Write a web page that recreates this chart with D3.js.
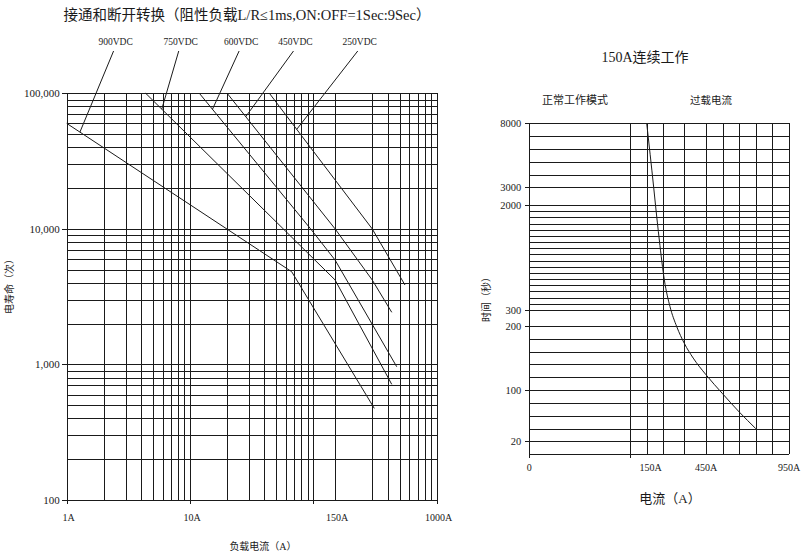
<!DOCTYPE html>
<html>
<head>
<meta charset="utf-8">
<script src="https://cdn.jsdelivr.net/npm/d3@7"></script>
<style>
html,body{margin:0;padding:0;background:#fff;}
svg{display:block;}
</style>
</head>
<body>
<div id="chart"></div>
<script>
// ---------- DATA : left chart (electrical life vs load current, log-log) ----------
const lifeTitle = "接通和断开转换（阻性负载L/R≤1ms,ON:OFF=1Sec:9Sec）";
const lifeXTitle = "负载电流（A）";
const lifeYTitle = "电寿命（次）";
const lifeCurrentGrid = [1,2,3,4,5,6,7,8,9,10,20,30,40,50,60,70,80,90,100,150,300,400,500,600,700,800,900,1000];
const lifeCountGrid = [100,200,300,400,500,600,700,800,900,1000,2000,3000,4000,5000,6000,7000,8000,9000,10000,20000,30000,40000,50000,60000,70000,80000,90000,100000];
const lifeXTickMarks = [1,10,100,1000];
const lifeXTickValues = [1,10,150,1000];
const lifeXTickLabels = ["1A","10A","150A","1000A"];
const lifeYTickValues = [100,1000,10000,100000];
const lifeYTickLabels = ["100","1,000","10,000","100,000"];

const voltageNames = ["900VDC","750VDC","600VDC","450VDC","250VDC"];
const current900 = [1, 66.7, 312];
const life900    = [60000, 4830, 474];
const current750 = [4.37, 57, 150, 432];
const life750    = [100000, 10000, 4200, 713];
const current600 = [11.9, 95, 150, 474];
const life600    = [100000, 10000, 5890, 962];
const current450 = [20, 150, 300, 432];
const life450    = [100000, 10000, 4200, 2424];
const current250 = [44, 300, 553];
const life250    = [100000, 10000, 3855];
const labelCurrent  = [2.4, 8.1, 25, 69, 229];   // where each voltage label sits (A)
const anchorCurrent = [1.28, 5.9, 15.2, 28.3, 73.3]; // where its leader touches the curve (A)

// ---------- DATA : right chart (overload time vs current) ----------
const overTitle = "150A连续工作";
const overZoneLeft = "正常工作模式";
const overZoneRight = "过载电流";
const overXTitle = "电流（A）";
const overYTitle = "时间（秒）";
const overCurrentGrid = [100,150,250,350,450,550,650,750,850,950];
const overTimeGrid = [20,40,60,80,100,120,140,160,180,200,
  300,400,500,600,700,800,900,1000,1100,1200,1300,1400,1500,1600,1700,1800,1900,2000,
  3000,4000,5000,6000,7000,8000];
const overXTickValues = [0,150,450,950];
const overXTickLabels = ["0","150A","450A","950A"];
const overYTickValues = [20,100,200,300,2000,3000,8000];
const overYTickLabels = ["20","100","200","300","2000","3000","8000"];
const overCurrent = [150, 192, 203, 226, 255, 282, 314, 350, 391, 450, 548, 650, 750];
const overTime    = [8000, 3000, 2000, 1433, 786, 353, 199, 173, 150, 124, 95, 66, 40];

// ---------- DRAW ----------
const W = 803, H = 556;
const ink = "#1a1a1a";
const serif = "'Liberation Serif','Noto Sans CJK SC',serif";
const svg = d3.select("#chart").append("svg").attr("width", W).attr("height", H);

// ===== Left chart =====
const lx = d3.scaleLog().domain([1,1000]).range([66.7,436.7]);
const ly = d3.scaleLog().domain([100,100000]).range([500,93.3]);
const L = svg.append("g");

L.append("g").selectAll("line").data(lifeCurrentGrid).join("line")
  .attr("x1", d => Math.round(lx(d)) + 0.5).attr("x2", d => Math.round(lx(d)) + 0.5)
  .attr("y1", ly(100000)).attr("y2", ly(100))
  .attr("stroke", ink).attr("stroke-width", 1).attr("shape-rendering","crispEdges");
L.append("g").selectAll("line").data(lifeCountGrid).join("line")
  .attr("x1", lx(1)).attr("x2", lx(1000))
  .attr("y1", d => Math.round(ly(d)) + 0.5).attr("y2", d => Math.round(ly(d)) + 0.5)
  .attr("stroke", ink).attr("stroke-width", 1).attr("shape-rendering","crispEdges");

// ticks
L.append("g").selectAll("line").data(lifeYTickValues).join("line")
  .attr("x1", lx(1) - 5).attr("x2", lx(1))
  .attr("y1", d => Math.round(ly(d)) + 0.5).attr("y2", d => Math.round(ly(d)) + 0.5)
  .attr("stroke", ink).attr("shape-rendering","crispEdges");
L.append("g").selectAll("line").data(lifeXTickMarks).join("line")
  .attr("x1", d => Math.round(lx(d)) + 0.5).attr("x2", d => Math.round(lx(d)) + 0.5)
  .attr("y1", ly(100)).attr("y2", ly(100) + 4)
  .attr("stroke", ink).attr("shape-rendering","crispEdges");

L.append("g").selectAll("text").data(lifeYTickValues).join("text")
  .attr("x", lx(1) - 7).attr("y", d => ly(d)).attr("dy","0.35em")
  .attr("text-anchor","end").attr("font-family", serif).attr("font-size", 11).attr("fill", ink)
  .text((d,i) => lifeYTickLabels[i]);
L.append("g").selectAll("text").data(lifeXTickValues).join("text")
  .attr("x", d => lx(d) + 2).attr("y", 517).attr("dy","0.35em")
  .attr("text-anchor","middle").attr("font-family", serif).attr("font-size", 10).attr("fill", ink)
  .text((d,i) => lifeXTickLabels[i]);

L.append("text").attr("x", 247).attr("y", 15).attr("dy","0.35em").attr("text-anchor","middle")
  .attr("font-family", serif).attr("font-size", 14.5).attr("fill", ink).text(lifeTitle);
L.append("text").attr("x", 263).attr("y", 546).attr("dy","0.35em").attr("text-anchor","middle")
  .attr("font-family", serif).attr("font-size", 10).attr("fill", ink).text(lifeXTitle);
L.append("text").attr("transform","translate(9,284) rotate(-90)").attr("dy","0.35em").attr("text-anchor","middle")
  .attr("font-family", serif).attr("font-size", 10).attr("fill", ink).text(lifeYTitle);

// curves
const lifeCurves = [
  [current900, life900],[current750, life750],[current600, life600],[current450, life450],[current250, life250]
];
const lifeLine = d3.line().x(d => lx(d[0])).y(d => ly(d[1]));
lifeCurves.forEach(([cx, cy]) => {
  L.append("path").datum(cx.map((c,i) => [c, cy[i]]))
    .attr("d", lifeLine).attr("fill","none").attr("stroke", ink).attr("stroke-width", 1);
});

// interpolate a curve value in log-log space
function lifeAt(cx, cy, a) {
  for (let i = 0; i < cx.length - 1; i++) {
    if (a >= cx[i] && a <= cx[i+1]) {
      const t = (Math.log(a) - Math.log(cx[i])) / (Math.log(cx[i+1]) - Math.log(cx[i]));
      return Math.exp(Math.log(cy[i]) + t * (Math.log(cy[i+1]) - Math.log(cy[i])));
    }
  }
  return cy[0];
}
voltageNames.forEach((name, i) => {
  const [cx, cy] = lifeCurves[i];
  const ax = lx(anchorCurrent[i]), ay = ly(lifeAt(cx, cy, anchorCurrent[i]));
  const tx = lx(labelCurrent[i]);
  L.append("line").attr("x1", tx).attr("y1", 51).attr("x2", ax).attr("y2", ay)
    .attr("stroke", ink).attr("stroke-width", 1);
  L.append("text").attr("x", tx + 2).attr("y", 42).attr("dy","0.35em").attr("text-anchor","middle")
    .attr("font-family", serif).attr("font-size", 9.5).attr("fill", ink).text(name);
});

// ===== Right chart =====
const rx = d3.scaleLinear().domain([0,100,150,250,350,450,950]).range([529.3,630.3,646.7,663.3,684.3,706,789]);
const ry = d3.scaleLinear().domain([0,200,300,2000,3000,8000]).range([454.3,326,310,205,187.3,123.3]);
const R = svg.append("g");

R.append("g").selectAll("line").data(overTimeGrid).join("line")
  .attr("x1", rx(0)).attr("x2", rx(950))
  .attr("y1", d => Math.round(ry(d)) + 0.5).attr("y2", d => Math.round(ry(d)) + 0.5)
  .attr("stroke", ink).attr("stroke-width", 1).attr("shape-rendering","crispEdges");
R.append("g").selectAll("line").data(overCurrentGrid).join("line")
  .attr("x1", d => Math.round(rx(d)) + 0.5).attr("x2", d => Math.round(rx(d)) + 0.5)
  .attr("y1", ry(8000)).attr("y2", ry(0))
  .attr("stroke", ink).attr("stroke-width", 1).attr("shape-rendering","crispEdges");
// axes
R.append("line").attr("x1", Math.round(rx(0)) + 0.5).attr("x2", Math.round(rx(0)) + 0.5)
  .attr("y1", ry(8000)).attr("y2", ry(0) + 4).attr("stroke", ink).attr("shape-rendering","crispEdges");
R.append("line").attr("x1", Math.round(rx(100)) + 0.5).attr("x2", Math.round(rx(100)) + 0.5)
  .attr("y1", ry(0)).attr("y2", ry(0) + 4).attr("stroke", ink).attr("shape-rendering","crispEdges");
R.append("line").attr("x1", rx(0)).attr("x2", rx(950))
  .attr("y1", Math.round(ry(0)) + 0.5).attr("y2", Math.round(ry(0)) + 0.5)
  .attr("stroke", ink).attr("shape-rendering","crispEdges");
R.append("g").selectAll("line").data(overYTickValues).join("line")
  .attr("x1", rx(0) - 4).attr("x2", rx(0))
  .attr("y1", d => Math.round(ry(d)) + 0.5).attr("y2", d => Math.round(ry(d)) + 0.5)
  .attr("stroke", ink).attr("shape-rendering","crispEdges");

R.append("g").selectAll("text").data(overYTickValues).join("text")
  .attr("x", rx(0) - 8).attr("y", d => ry(d)).attr("dy","0.35em")
  .attr("text-anchor","end").attr("font-family", serif).attr("font-size", 10.5).attr("fill", ink)
  .text((d,i) => overYTickLabels[i]);
R.append("g").selectAll("text").data(overXTickValues).join("text")
  .attr("x", d => rx(d) + (d === 150 ? 4 : 0)).attr("y", 467).attr("dy","0.35em")
  .attr("text-anchor","middle").attr("font-family", serif).attr("font-size", 10).attr("fill", ink)
  .text((d,i) => overXTickLabels[i]);

R.append("text").attr("x", 645).attr("y", 57).attr("dy","0.35em").attr("text-anchor","middle")
  .attr("font-family", serif).attr("font-size", 14).attr("fill", ink).text(overTitle);
R.append("text").attr("x", 575).attr("y", 100).attr("dy","0.35em").attr("text-anchor","middle")
  .attr("font-family", serif).attr("font-size", 11).attr("fill", ink).text(overZoneLeft);
R.append("text").attr("x", 711).attr("y", 100).attr("dy","0.35em").attr("text-anchor","middle")
  .attr("font-family", serif).attr("font-size", 10.5).attr("fill", ink).text(overZoneRight);
R.append("text").attr("x", 670).attr("y", 498).attr("dy","0.35em").attr("text-anchor","middle")
  .attr("font-family", serif).attr("font-size", 13).attr("fill", ink).text(overXTitle);
R.append("text").attr("transform","translate(486,297) rotate(-90)").attr("dy","0.35em").attr("text-anchor","middle")
  .attr("font-family", serif).attr("font-size", 10).attr("fill", ink).text(overYTitle);

const overLine = d3.line().x(d => rx(d[0])).y(d => ry(d[1])).curve(d3.curveMonotoneX);
R.append("path").datum(overCurrent.map((c,i) => [c, overTime[i]]))
  .attr("d", overLine).attr("fill","none").attr("stroke", ink).attr("stroke-width", 1);
</script>
</body>
</html>
